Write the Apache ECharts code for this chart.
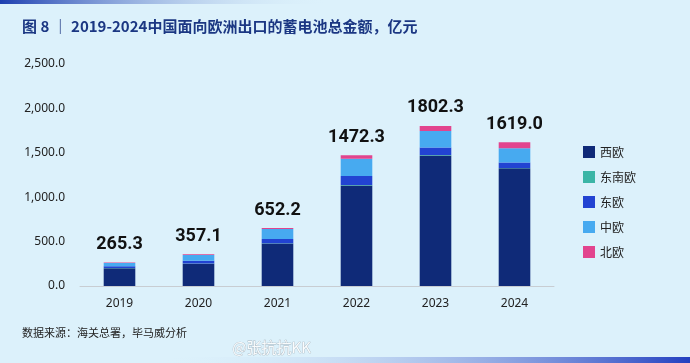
<!DOCTYPE html>
<html><head><meta charset="utf-8">
<script src="https://cdn.jsdelivr.net/npm/echarts@6/dist/echarts.min.js"></script>
<style>html,body{margin:0;padding:0;background:#dcf1fb;}#c{width:690px;height:363px;}</style>
</head><body><div id="c"></div>
<script>
const years = ['2019','2020','2021','2022','2023','2024'];
const westEU = [200, 250, 478, 1132, 1470, 1325];
const seEU = [3, 3, 3, 4, 5, 5];
const eastEU = [20, 30, 48, 103, 85, 60];
const centralEU = [35, 65, 113, 195, 185, 160];
const northEU = [7.3, 9.1, 10.2, 38.3, 57.3, 69];
const totals = ['265.3','357.1','652.2','1472.3','1802.3','1619.0'];
const yTicks = [0, 500, 1000, 1500, 2000, 2500];

const chart = echarts.init(document.getElementById('c'));
const names = ['西欧','东南欧','东欧','中欧','北欧'];
const datas = [westEU, seEU, eastEU, centralEU, northEU];
const colors = ['#0f2a78','#3bb5a6','#2243d2','#47aaf0','#e2448e'];
const series = names.map((n,i)=>({
  name:n, type:'bar', stack:'t', barWidth:'40%', data:datas[i],
  itemStyle:{color:colors[i]},
  label: i===4 ? {show:true, position:'top', distance:9, formatter:p=>totals[p.dataIndex],
    fontFamily:'"Roboto", sans-serif', fontWeight:'bold', fontSize:18, color:'#111'} : {show:false}
}));
chart.setOption({
  backgroundColor:'#dcf1fb',
  animation:false,
  graphic:[
    {type:'rect', shape:{x:0,y:0,width:330,height:4}, style:{fill:new echarts.graphic.LinearGradient(0,0,1,0,[{offset:0,color:'#1d3fb0'},{offset:1,color:'rgba(220,241,251,0)'}])}},
    {type:'rect', shape:{x:160,y:357,width:530,height:6}, style:{fill:new echarts.graphic.LinearGradient(0,0,1,0,[{offset:0,color:'rgba(220,241,251,0)'},{offset:1,color:'#2340c0'}])}},
    {type:'text', left:22, top:19, style:{text:'图 8 ｜ 2019-2024中国面向欧洲出口的蓄电池总金额，亿元', font:'bold 15px "Noto Sans CJK SC", sans-serif', fill:'#1b3783'}},
    {type:'text', left:22, top:327, style:{text:'数据来源：海关总署，毕马威分析', font:'11px "Noto Sans CJK SC", sans-serif', fill:'#222'}},
    {type:'text', left:232, top:339, style:{text:'@张抗抗KK', font:'15px "Noto Sans CJK SC", sans-serif', fill:'rgba(255,255,255,0.9)', stroke:'rgba(130,140,150,0.6)', lineWidth:0.7}}
  ],
  grid:{left:80, right:136, top:64, bottom:77, containLabel:false},
  legend:{orient:'vertical', left:578, top:141, itemGap:13, itemWidth:12, itemHeight:12, icon:'rect',
    data:names, textStyle:{fontSize:12, color:'#222', fontFamily:'"Noto Sans CJK SC", sans-serif'}},
  xAxis:{type:'category', data:years,
    axisLine:{lineStyle:{color:'#c8cdd2'}}, axisTick:{show:false},
    axisLabel:{color:'#222', fontSize:12, margin:12, fontFamily:'"Noto Sans", sans-serif'}},
  yAxis:{type:'value', min:0, max:2500, interval:500,
    axisLine:{show:false}, axisTick:{show:false}, splitLine:{show:false},
    axisLabel:{color:'#222', fontSize:12, margin:15, fontFamily:'"Noto Sans", sans-serif',
      formatter:v=>v.toLocaleString('en-US',{minimumFractionDigits:1, maximumFractionDigits:1})}},
  series
});
</script></body></html>
